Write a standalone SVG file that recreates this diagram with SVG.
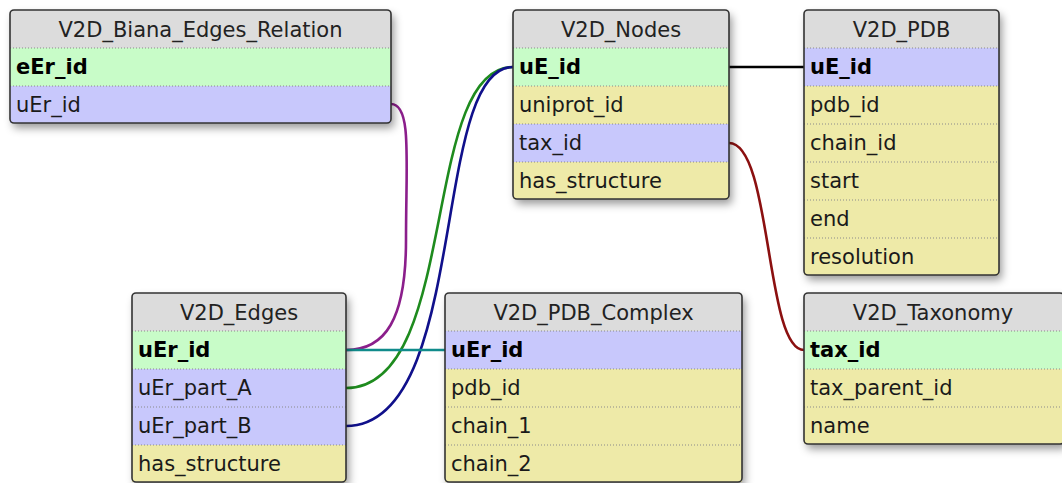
<svg xmlns="http://www.w3.org/2000/svg" width="1062" height="483" viewBox="0 0 1062 483">
<style>
.hdr{fill:#dcdcdc}
.pk{fill:#c8fcc8}
.fk{fill:#c8c8fc}
.fd{fill:#eeeaa8}
.sep{stroke:#8a8a8a;stroke-width:1;stroke-dasharray:1 2}
.box{fill:none;stroke:#333;stroke-width:1.6}
.bg{fill:#dcdcdc;filter:url(#sh)}
text{font-family:"DejaVu Sans",Verdana,sans-serif;font-size:21px;fill:#1a1a1a}
.t{text-anchor:middle;fill:#222}
.b{font-weight:bold;fill:#000}
.c{fill:none;stroke-width:2.6}
</style>
<defs>
<filter id="sh" x="-10%" y="-10%" width="130%" height="130%">
<feDropShadow dx="3" dy="5" stdDeviation="4" flood-color="#000" flood-opacity="0.4"/>
</filter>
</defs>

<g id="connectors">
<path class="c" stroke="#8b1e8b" d="M391,104 C412,104 406,160 406,240 C406,320 385,350 346,350"/>
<path class="c" stroke="#1e8b1e" d="M346,388 C460,388 420,67 513,67"/>
<path class="c" stroke="#10108b" d="M346,426 C470,426 430,67 513,67"/>
<path class="c" stroke="#108b8b" d="M346,350 L445,350"/>
<path class="c" stroke="#000" d="M729,67 L805,67"/>
<path class="c" stroke="#8b1010" d="M729,143 C772,143 765,350 804,350"/>
</g>

<g id="V2D_Biana_Edges_Relation">
<rect class="bg" x="10" y="10" width="381" height="113" rx="4"/>
<rect class="pk" x="10" y="48" width="381" height="38"/>
<rect class="fk" x="10" y="86" width="381" height="37"/>
<line class="sep" x1="10" y1="48" x2="391" y2="48"/>
<line class="sep" x1="10" y1="86" x2="391" y2="86"/>
<rect class="box" x="10" y="10" width="381" height="113" rx="4"/>
<text class="t" x="200.5" y="37">V2D_Biana_Edges_Relation</text>
<text class="b" x="16" y="74">eEr_id</text>
<text x="16" y="112">uEr_id</text>
</g>

<g id="V2D_Nodes">
<rect class="bg" x="513" y="10" width="216" height="189" rx="4"/>
<rect class="pk" x="513" y="48" width="216" height="38"/>
<rect class="fd" x="513" y="86" width="216" height="38"/>
<rect class="fk" x="513" y="124" width="216" height="38"/>
<rect class="fd" x="513" y="162" width="216" height="37"/>
<line class="sep" x1="513" y1="48" x2="729" y2="48"/>
<line class="sep" x1="513" y1="86" x2="729" y2="86"/>
<line class="sep" x1="513" y1="124" x2="729" y2="124"/>
<line class="sep" x1="513" y1="162" x2="729" y2="162"/>
<rect class="box" x="513" y="10" width="216" height="189" rx="4"/>
<text class="t" x="621" y="37">V2D_Nodes</text>
<text class="b" x="519" y="74">uE_id</text>
<text x="519" y="112">uniprot_id</text>
<text x="519" y="150">tax_id</text>
<text x="519" y="188">has_structure</text>
</g>

<g id="V2D_PDB">
<rect class="bg" x="804" y="10" width="195" height="265" rx="4"/>
<rect class="fk" x="804" y="48" width="195" height="38"/>
<rect class="fd" x="804" y="86" width="195" height="189"/>
<line class="sep" x1="804" y1="48" x2="999" y2="48"/>
<line class="sep" x1="804" y1="86" x2="999" y2="86"/>
<line class="sep" x1="804" y1="124" x2="999" y2="124"/>
<line class="sep" x1="804" y1="162" x2="999" y2="162"/>
<line class="sep" x1="804" y1="200" x2="999" y2="200"/>
<line class="sep" x1="804" y1="238" x2="999" y2="238"/>
<rect class="box" x="804" y="10" width="195" height="265" rx="4"/>
<text class="t" x="901.5" y="37">V2D_PDB</text>
<text class="b" x="810" y="74">uE_id</text>
<text x="810" y="112">pdb_id</text>
<text x="810" y="150">chain_id</text>
<text x="810" y="188">start</text>
<text x="810" y="226">end</text>
<text x="810" y="264">resolution</text>
</g>

<g id="V2D_Edges">
<rect class="bg" x="132" y="293" width="214" height="189" rx="4"/>
<rect class="pk" x="132" y="331" width="214" height="38"/>
<rect class="fk" x="132" y="369" width="214" height="76"/>
<rect class="fd" x="132" y="445" width="214" height="37"/>
<line class="sep" x1="132" y1="331" x2="346" y2="331"/>
<line class="sep" x1="132" y1="369" x2="346" y2="369"/>
<line class="sep" x1="132" y1="407" x2="346" y2="407"/>
<line class="sep" x1="132" y1="445" x2="346" y2="445"/>
<rect class="box" x="132" y="293" width="214" height="189" rx="4"/>
<text class="t" x="239" y="320">V2D_Edges</text>
<text class="b" x="138" y="357">uEr_id</text>
<text x="138" y="395">uEr_part_A</text>
<text x="138" y="433">uEr_part_B</text>
<text x="138" y="471">has_structure</text>
</g>

<g id="V2D_PDB_Complex">
<rect class="bg" x="445" y="293" width="297" height="189" rx="4"/>
<rect class="fk" x="445" y="331" width="297" height="38"/>
<rect class="fd" x="445" y="369" width="297" height="113"/>
<line class="sep" x1="445" y1="331" x2="742" y2="331"/>
<line class="sep" x1="445" y1="369" x2="742" y2="369"/>
<line class="sep" x1="445" y1="407" x2="742" y2="407"/>
<line class="sep" x1="445" y1="445" x2="742" y2="445"/>
<rect class="box" x="445" y="293" width="297" height="189" rx="4"/>
<text class="t" x="593.5" y="320">V2D_PDB_Complex</text>
<text class="b" x="451" y="357">uEr_id</text>
<text x="451" y="395">pdb_id</text>
<text x="451" y="433">chain_1</text>
<text x="451" y="471">chain_2</text>
</g>

<g id="V2D_Taxonomy">
<rect class="bg" x="804" y="293" width="260" height="151" rx="4"/>
<rect class="pk" x="804" y="331" width="260" height="38"/>
<rect class="fd" x="804" y="369" width="260" height="75"/>
<line class="sep" x1="804" y1="331" x2="1064" y2="331"/>
<line class="sep" x1="804" y1="369" x2="1064" y2="369"/>
<line class="sep" x1="804" y1="407" x2="1064" y2="407"/>
<rect class="box" x="804" y="293" width="260" height="151" rx="4"/>
<text class="t" x="933" y="320">V2D_Taxonomy</text>
<text class="b" x="810" y="357">tax_id</text>
<text x="810" y="395">tax_parent_id</text>
<text x="810" y="433">name</text>
</g>
</svg>
